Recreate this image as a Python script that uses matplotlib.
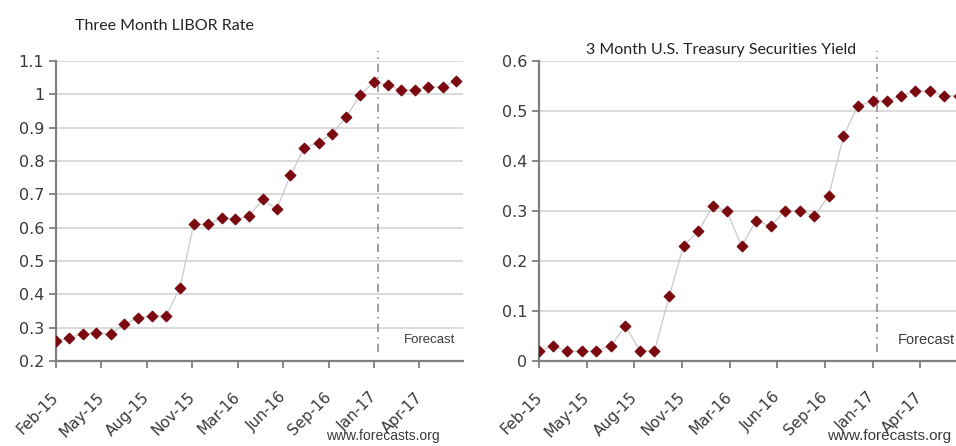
import matplotlib

matplotlib.use("Agg")
import matplotlib.pyplot as plt
import matplotlib.dates as mdates
import matplotlib.ticker as mticker
import matplotlib.transforms as mtransforms
import numpy as np
import pandas as pd

# Monthly observations + forecast, Feb-15 .. Jul-17
months = pd.date_range("2015-02-01", periods=30, freq="MS")

libor = [0.26, 0.27, 0.28, 0.285, 0.28, 0.31, 0.33, 0.335, 0.335, 0.42,
         0.61, 0.61, 0.63, 0.625, 0.635, 0.685, 0.655, 0.757, 0.84, 0.855,
         0.882, 0.932, 0.997, 1.037, 1.029, 1.012, 1.014, 1.022, 1.022, 1.04]

tbill = [0.02, 0.03, 0.02, 0.02, 0.02, 0.03, 0.07, 0.02, 0.02, 0.13,
         0.23, 0.26, 0.31, 0.30, 0.23, 0.28, 0.27, 0.30, 0.30, 0.29,
         0.33, 0.45, 0.51, 0.52, 0.52, 0.53, 0.54, 0.54, 0.53, 0.53]

forecast_start = pd.Timestamp("2017-01-10")
x_start = pd.Timestamp("2015-02-01")
x_end = pd.Timestamp("2017-07-16")

marker_color = "#7a0a10"
line_color = "#c9c9c9"
grid_color = "#d4d4d4"
spine_color = "#7f7f7f"
text_color = "#3a3a3a"

fig = plt.figure(figsize=(9.56, 4.46), dpi=100)
ax1 = fig.add_axes([0.0586, 0.1906, 0.4257, 0.6726])
ax2 = fig.add_axes([0.5641, 0.1906, 0.4462, 0.6726])

# ticks every 100 days like the Excel date axis
tick_dates = [x_start + pd.Timedelta(days=100 * k) for k in range(9)]
label_shift = mtransforms.ScaledTranslation(-5 / 100, -9 / 100, fig.dpi_scale_trans)


def style(ax, values, ymin, ymax):
    ax.plot(months, values, color=line_color, linewidth=0.9, zorder=2)
    ax.scatter(months, values, marker="D", s=28, color=marker_color, zorder=3)
    ax.set_xlim(x_start, x_end)
    ax.set_ylim(ymin, ymax)
    ax.yaxis.set_major_locator(mticker.MultipleLocator(0.1))
    ax.yaxis.set_major_formatter(mticker.FuncFormatter(lambda v, p: f"{v:g}"))
    ax.xaxis.set_major_locator(mticker.FixedLocator(mdates.date2num(tick_dates)))
    ax.xaxis.set_major_formatter(mdates.DateFormatter("%b-%y"))
    ax.grid(axis="y", color=grid_color, linewidth=1.2)
    ax.set_axisbelow(True)
    for s in ["top", "right"]:
        ax.spines[s].set_visible(False)
    for s in ["left", "bottom"]:
        ax.spines[s].set_color(spine_color)
        ax.spines[s].set_linewidth(1.6)
    ax.tick_params(axis="both", colors=spine_color, length=5, width=1.3,
                   labelcolor=text_color, labelsize=11.5)
    ax.tick_params(axis="x", pad=9, labelsize=11)
    for lbl in ax.get_xticklabels():
        lbl.set_rotation(45)
        lbl.set_ha("right")
        lbl.set_rotation_mode("anchor")
        lbl.set_transform(lbl.get_transform() + label_shift)
    ax.plot([forecast_start, forecast_start], [0.031, 1.035],
            transform=ax.get_xaxis_transform(), color="#8c8c8c",
            linestyle=(0, (5, 3, 1, 3)), linewidth=1.2, clip_on=False, zorder=1)


style(ax1, libor, 0.2, 1.1)
style(ax2, tbill, 0.0, 0.6)

fig.text(75 / 956, 1 - 26 / 446, "Three Month LIBOR Rate", fontsize=11.5,
         family="Lato", color="#222222", ha="left", va="center")
fig.text(721 / 956, 1 - 50 / 446, "3 Month U.S. Treasury Securities Yield",
         fontsize=11.5, family="Lato", color="#222222", ha="center", va="center")

fig.text(455 / 956, 1 - 340 / 446, "Forecast", fontsize=9.5,
         family="Liberation Sans", color=text_color, ha="right", va="center")
fig.text(955 / 956, 1 - 340 / 446, "Forecast", fontsize=10.5,
         family="Liberation Sans", color=text_color, ha="right", va="center")

fig.text(440 / 956, 1 - 436 / 446, "www.forecasts.org", fontsize=10,
         family="Liberation Sans", color=text_color, ha="right", va="center")
fig.text(951 / 956, 1 - 436 / 446, "www.forecasts.org", fontsize=11,
         family="Liberation Sans", color=text_color, ha="right", va="center")

fig.savefig("out.png", dpi=100)
